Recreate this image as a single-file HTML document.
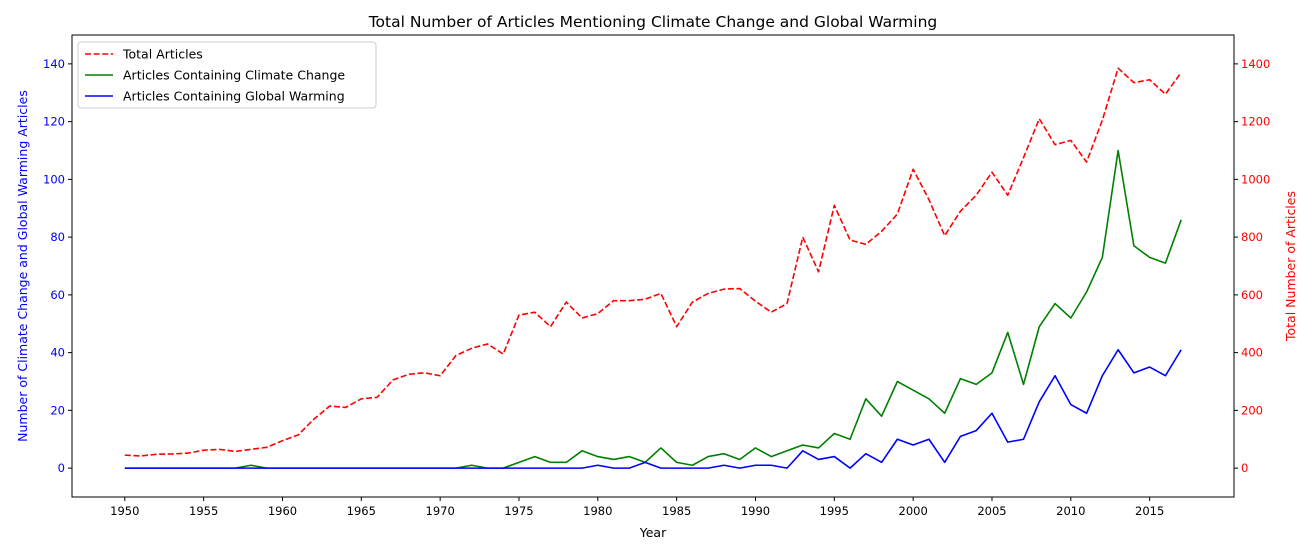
<!DOCTYPE html>
<html><head><meta charset="utf-8"><style>
body{margin:0;background:#fff;font-family:"Liberation Sans","DejaVu Sans",sans-serif;}
svg text{font-family:"DejaVu Sans","Liberation Sans",sans-serif;}
</style></head><body>
<svg id="chart" width="1316" height="547" xmlns="http://www.w3.org/2000/svg"></svg>
<script>
const years = [];
for (let y = 1950; y <= 2017; y++) years.push(y);
const totalArticles = [45,42,48,49,52,62,65,58,65,72,95,115,170,215,210,240,245,305,325,330,320,390,415,430,395,530,540,490,575,520,535,580,580,585,605,490,575,605,620,622,578,540,570,800,680,910,790,775,820,880,1035,930,805,890,945,1025,945,1075,1210,1120,1135,1060,1205,1385,1335,1345,1295,1370];
const climateChange = [0,0,0,0,0,0,0,0,1,0,0,0,0,0,0,0,0,0,0,0,0,0,1,0,0,2,4,2,2,6,4,3,4,2,7,2,1,4,5,3,7,4,6,8,7,12,10,24,18,30,27,24,19,31,29,33,47,29,49,57,52,61,73,110,77,73,71,86];
const globalWarming = [0,0,0,0,0,0,0,0,0,0,0,0,0,0,0,0,0,0,0,0,0,0,0,0,0,0,0,0,0,0,1,0,0,2,0,0,0,0,1,0,1,1,0,6,3,4,0,5,2,10,8,10,2,11,13,19,9,10,23,32,22,19,32,41,33,35,32,41];
const xTicks = [1950,1955,1960,1965,1970,1975,1980,1985,1990,1995,2000,2005,2010,2015];
const leftTicks = [0,20,40,60,80,100,120,140];
const rightTicks = [0,200,400,600,800,1000,1200,1400];

const L=72,R=1234,T=35,B=497;
const xMin=1946.65,xMax=2020.35;
const x=v=>L+(v-xMin)/(xMax-xMin)*(R-L);
const yL=v=>B-(v+10)/160*(B-T);
const yR=v=>B-(v+100)/1600*(B-T);
const svg=document.getElementById('chart');
const NS='http://www.w3.org/2000/svg';
function mk(tag,attrs,parent){const e=document.createElementNS(NS,tag);for(const k in attrs)e.setAttribute(k,attrs[k]);(parent||svg).appendChild(e);return e;}
function txt(s,attrs){const e=mk('text',attrs);e.textContent=s;return e;}

const t=txt('Total Number of Articles Mentioning Climate Change and Global Warming',{x:(L+R)/2,y:27,'text-anchor':'middle','font-size':15.5});



function line(vals,fy,color,dash,name){
  const pts=vals.map((v,i)=>x(years[i]).toFixed(2)+','+fy(v).toFixed(2)).join(' ');
  const p=mk('polyline',{points:pts,fill:'none',stroke:color,'stroke-width':1.6,'stroke-linejoin':'round'});
  if(dash)p.setAttribute('stroke-dasharray','6,2.6');
  
  
}
line(climateChange,yL,'green',false,'climate-change-line');
line(globalWarming,yL,'blue',false,'global-warming-line');
line(totalArticles,yR,'red',true,'total-articles-line');

const frame=mk('rect',{x:L,y:T,width:R-L,height:B-T,fill:'none',stroke:'#000','stroke-width':1});



xTicks.forEach(v=>{
  mk('line',{x1:x(v),x2:x(v),y1:B,y2:B+4,stroke:'#000'});
  const e=txt(v,{x:x(v),y:B+18,'text-anchor':'middle','font-size':11.5});
  
  
});
leftTicks.forEach(v=>{
  mk('line',{x1:L-4,x2:L,y1:yL(v),y2:yL(v),stroke:'#000'});
  const e=txt(v,{x:L-7,y:yL(v)+4,'text-anchor':'end','font-size':11.5,fill:'blue'});
  
  
});
rightTicks.forEach(v=>{
  mk('line',{x1:R,x2:R+4,y1:yR(v),y2:yR(v),stroke:'#000'});
  const e=txt(v,{x:R+7,y:yR(v)+4,'text-anchor':'start','font-size':11.5,fill:'red'});
  
  
});
const xl=txt('Year',{x:(L+R)/2,y:537,'text-anchor':'middle','font-size':12.5});


const yl=txt('Number of Climate Change and Global Warming Articles',{x:0,y:0,'text-anchor':'middle','font-size':12.5,fill:'blue',transform:`translate(27,${(T+B)/2}) rotate(-90)`});


const yr=txt('Total Number of Articles',{x:0,y:0,'text-anchor':'middle','font-size':12.5,fill:'red',transform:`translate(1295,${(T+B)/2}) rotate(-90)`});



const lg=mk('g',{});


mk('rect',{x:78,y:42,width:298,height:66,rx:3,fill:'#fff',stroke:'#ccc'},lg);
const entries=[['Total Articles','red',true],['Articles Containing Climate Change','green',false],['Articles Containing Global Warming','blue',false]];
entries.forEach((en,i)=>{
  const yy=54+i*21;
  const l=mk('line',{x1:85,x2:113,y1:yy,y2:yy,stroke:en[1],'stroke-width':1.6},lg);
  if(en[2])l.setAttribute('stroke-dasharray','6,2.6');
  const e=mk('text',{x:123,y:yy+4.5,'font-size':12.5},lg);
  e.textContent=en[0];
  
  
});
</script>
</body></html>
